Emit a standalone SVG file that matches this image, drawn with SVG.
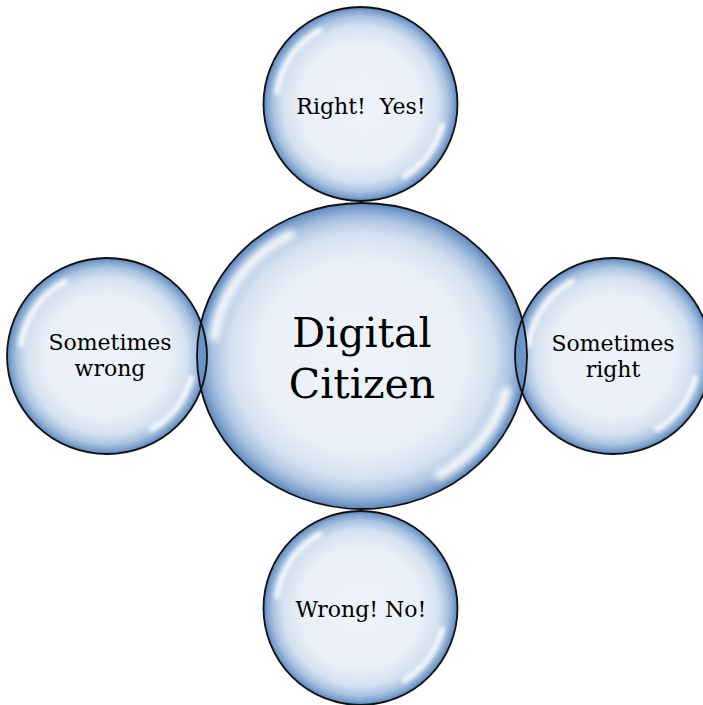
<svg xmlns="http://www.w3.org/2000/svg" width="703" height="705" viewBox="0 0 703 705">
  <defs>
    <radialGradient id="bub" cx="0.5" cy="0.5" r="0.5">
      <stop offset="0" stop-color="#EEF3FA"/>
      <stop offset="0.62" stop-color="#EAF0F8"/>
      <stop offset="0.8" stop-color="#D5E1F0"/>
      <stop offset="0.9" stop-color="#ABC4E1"/>
      <stop offset="0.96" stop-color="#7FA3CF"/>
      <stop offset="1" stop-color="#5A84B9"/>
    </radialGradient>
    <filter id="blur" x="-0.5" y="-0.5" width="2" height="2">
      <feGaussianBlur stdDeviation="0.022"/>
    </filter>
    <g id="hl">
      <path d="M -0.86 -0.12 A 0.87 0.87 0 0 1 -0.42 -0.76" fill="none" stroke="#FFFFFF" stroke-width="0.06" stroke-linecap="round" filter="url(#blur)" opacity="0.9"/>
      <path d="M 0.84 0.22 A 0.87 0.87 0 0 1 0.45 0.745" fill="none" stroke="#FFFFFF" stroke-width="0.06" stroke-linecap="round" filter="url(#blur)" opacity="0.9"/>
    </g>
    <clipPath id="clipMain">
      <ellipse cx="362" cy="356" rx="165" ry="153"/>
    </clipPath>
  </defs>
  <style>
    .fill { fill: url(#bub); }
    .outline { fill: none; stroke: #111111; stroke-width: 1.8; }
    .lens { fill: #6690C4; opacity: 0.85; }
    .t { font-family: "DejaVu Serif", "Liberation Serif", serif; fill: #000000; text-anchor: middle; white-space: pre; }
    .small { font-size: 22px; }
    .big { font-size: 41px; }
  </style>

  <g id="node-main">
    <ellipse class="fill" cx="362" cy="356" rx="165" ry="153"/>
    <use href="#hl" transform="translate(362 356) scale(172 160)"/>
  </g>

  <g id="node-top">
    <circle class="fill" cx="360.5" cy="104" r="97"/>
    <use href="#hl" transform="translate(360.5 104) scale(97)"/>
    <circle class="outline" cx="360.5" cy="104" r="97"/>
    <text class="t small" x="361" y="114" xml:space="preserve">Right!  Yes!</text>
  </g>

  <g id="node-bottom">
    <circle class="fill" cx="360.5" cy="608" r="97"/>
    <use href="#hl" transform="translate(360.5 608) scale(97)"/>
    <circle class="outline" cx="360.5" cy="608" r="97"/>
    <text class="t small" x="361" y="617">Wrong! No!</text>
  </g>

  <g id="node-left">
    <ellipse class="fill" cx="107" cy="356" rx="100" ry="98"/>
    <use href="#hl" transform="translate(107 356) scale(100 98)"/>
    <ellipse class="lens" cx="107" cy="356" rx="100" ry="98" clip-path="url(#clipMain)"/>
    <ellipse class="outline" cx="107" cy="356" rx="100" ry="98"/>
    <text class="t small" x="110" y="350">Sometimes</text>
    <text class="t small" x="110" y="376">wrong</text>
  </g>

  <g id="node-right">
    <circle class="fill" cx="613" cy="356" r="98"/>
    <use href="#hl" transform="translate(613 356) scale(98)"/>
    <circle class="lens" cx="613" cy="356" r="98" clip-path="url(#clipMain)"/>
    <circle class="outline" cx="613" cy="356" r="98"/>
    <text class="t small" x="613" y="351">Sometimes</text>
    <text class="t small" x="613" y="377">right</text>
  </g>

  <g id="node-main-label">
    <ellipse class="outline" cx="362" cy="356" rx="165" ry="153"/>
    <text class="t big" x="362" y="347">Digital</text>
    <text class="t big" x="362" y="398">Citizen</text>
  </g>

  <g id="connectors"/>
</svg>
